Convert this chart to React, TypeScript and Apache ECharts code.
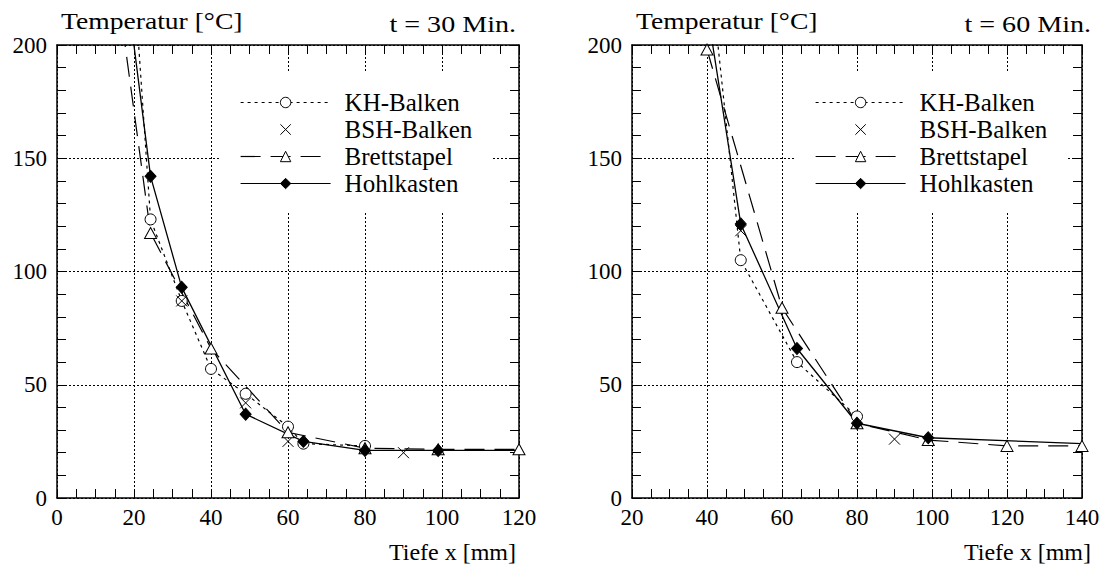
import React, { useEffect, useRef } from "react";
import * as echarts from "echarts";

// ---- data (depth x [mm], temperature [°C]) ----
const seriesNames = ["KH-Balken", "BSH-Balken", "Brettstapel", "Hohlkasten"];

// t = 30 min
const kh30: (number[] | { value: number[]; symbol: string })[] = [
  { value: [20, 230], symbol: "none" }, [24.3, 123], [32.4, 87], [40, 57], [49, 46], [60, 31.5], [64, 24], [80, 23],
];
const bsh30 = [[32.4, 87], [49, 42], [60, 25], [90, 20]];
const brett30: (number[] | { value: number[]; symbol: string })[] = [
  { value: [16, 221], symbol: "none" }, [24.3, 117], [40, 66], [60, 29], [80, 22], [99, 21.5], [120, 21.5],
];
const hohl30: (number[] | { value: number[]; symbol: string })[] = [
  { value: [17, 240], symbol: "none" }, [24.3, 142], [32.4, 93], [49, 37], [64, 25], [80, 21], [99, 21], { value: [120, 21], symbol: "none" },
];

// t = 60 min
const kh60: (number[] | { value: number[]; symbol: string })[] = [
  { value: [41, 230], symbol: "none" }, [49, 105], [64, 60], [80, 36],
];
const bsh60 = [[49, 118], [90, 26]];
const brett60 = [[40, 198], [60, 84], [80, 33], [99, 25.6], [120, 23], [140, 23]];
const hohl60: (number[] | { value: number[]; symbol: string })[] = [
  { value: [40, 216], symbol: "none" }, [49, 121], [64, 66], [80, 33], [99, 26.6], { value: [140, 24], symbol: "none" },
];

const xRange30 = [0, 120];
const xRange60 = [20, 140];
const yRange = [0, 200];
const titles = ["t = 30 Min.", "t = 60 Min."];
const yTitle = "Temperatur [°C]";
const xTitle = "Tiefe x [mm]";

const FONT = "Liberation Serif";
const CROSS = "path://M0,0L10,10M10,0L0,10";

export default function App() {
  const ref = useRef<HTMLDivElement>(null);
  useEffect(() => {
    const chart = echarts.init(ref.current!, undefined, { renderer: "svg" });

    const grids = [
      { left: 57, top: 45, width: 462, height: 453 },
      { left: 632, top: 45, width: 450, height: 453 },
    ];

    const tickLine = { color: "#000", width: 1 };
    const split = { show: true, lineStyle: { color: "#000", width: 1, type: [2, 2] as number[] } };
    const label = { fontFamily: FONT, fontSize: 23, color: "#000" };

    const xAxis: any[] = [];
    const yAxis: any[] = [];
    [xRange30, xRange60].forEach((r, gi) => {
      [false, true].forEach((mirror) => {
        xAxis.push({
          type: "value", gridIndex: gi, min: r[0], max: r[1], interval: 20,
          position: mirror ? "top" : "bottom",
          axisLine: { show: true, onZero: false, lineStyle: { color: "#000", width: 1.5 } },
          axisTick: { show: true, inside: true, length: 9, lineStyle: tickLine },
          minorTick: { show: true, splitNumber: 4, length: 9, lineStyle: tickLine },
          axisLabel: { show: !mirror, margin: 8, ...label },
          splitLine: mirror ? { show: false } : split,
        });
        yAxis.push({
          type: "value", gridIndex: gi, min: yRange[0], max: yRange[1], interval: 50,
          position: mirror ? "right" : "left",
          axisLine: { show: true, onZero: false, lineStyle: { color: "#000", width: 1.5 } },
          axisTick: { show: true, inside: true, length: 9, lineStyle: tickLine },
          minorTick: { show: true, splitNumber: 5, length: 9, lineStyle: tickLine },
          axisLabel: { show: !mirror, margin: 10, ...label },
          splitLine: mirror ? { show: false } : split,
        });
      });
    });

    const mk = (name: string, data: any[], gi: number) => {
      const ax = gi * 2;
      const base: any = {
        name, type: "line", data, xAxisIndex: ax, yAxisIndex: ax,
        showAllSymbol: true, z: 3,
      };
      if (name === "KH-Balken") {
        return { ...base, symbol: "circle", symbolSize: 11,
          itemStyle: { color: "#fff", borderColor: "#000", borderWidth: 1 },
          lineStyle: { color: "#000", width: 1.2, type: [3, 4] } };
      }
      if (name === "BSH-Balken") {
        return { ...base, symbol: CROSS, symbolSize: 11,
          itemStyle: { color: "transparent", borderColor: "#000", borderWidth: 1 },
          lineStyle: { color: "#000", width: 0, opacity: 0 } };
      }
      if (name === "Brettstapel") {
        return { ...base, symbol: "triangle", symbolSize: [12, 11],
          itemStyle: { color: "#fff", borderColor: "#000", borderWidth: 1 },
          lineStyle: { color: "#000", width: 1.2, type: [20, 10] } };
      }
      return { ...base, symbol: "diamond", symbolSize: [11, 12],
        itemStyle: { color: "#000", borderColor: "#000", borderWidth: 1 },
        lineStyle: { color: "#000", width: 1.3, type: "solid" } };
    };

    const series = [
      mk("KH-Balken", kh30, 0), mk("BSH-Balken", bsh30, 0), mk("Brettstapel", brett30, 0), mk("Hohlkasten", hohl30, 0),
      mk("KH-Balken", kh60, 1), mk("BSH-Balken", bsh60, 1), mk("Brettstapel", brett60, 1), mk("Hohlkasten", hohl60, 1),
    ];

    const legendData = seriesNames.map((n) =>
      n === "BSH-Balken" ? { name: n, lineStyle: { opacity: 0, width: 0 } } : { name: n }
    );
    const mkLegend = (left: number) => ({
      left, top: 72, orient: "vertical", selectedMode: false,
      backgroundColor: "#fff",
      padding: [18, 20, 16, 20],
      itemWidth: 90, itemHeight: 13, itemGap: 2,
      itemStyle: { borderWidth: 1 },
      lineStyle: { width: 1.2 },
      textStyle: { fontFamily: FONT, fontSize: 25, color: "#000", padding: [0, 0, 0, 9] },
      data: legendData,
      z: 5,
    });

    const textEl = (text: string, x: number, y: number, align: string, size: number, sx: number) => ({
      type: "text", x, y, scaleX: sx,
      style: { text, fontFamily: FONT, fontSize: size, fill: "#000", align, verticalAlign: "middle" },
    });
    const offs = [0, 575];
    const graphic: any[] = [];
    offs.forEach((o, i) => {
      graphic.push(textEl(yTitle, 61 + o, 21, "left", 24, 1.15));
      graphic.push(textEl(titles[i], 516 + o, 24, "right", 24, 1.17));
      graphic.push(textEl(xTitle, 516 + o, 552, "right", 24, 1.0));
    });

    chart.setOption({
      animation: false,
      backgroundColor: "#fff",
      grid: grids,
      xAxis, yAxis, series,
      legend: [mkLegend(220), mkLegend(795)],
      graphic,
    });
    return () => chart.dispose();
  }, []);
  return <div ref={ref} style={{ width: 1105, height: 568, position: "absolute", left: 0, top: 0 }} />;
}
